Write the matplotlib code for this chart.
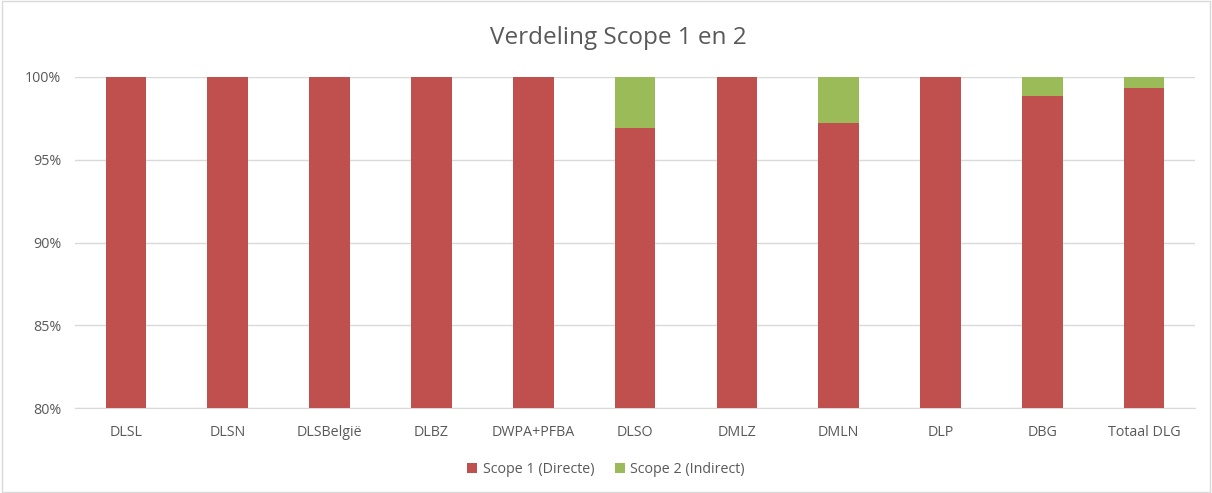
import matplotlib
matplotlib.use("Agg")
import matplotlib.pyplot as plt
from matplotlib.patches import Rectangle
from matplotlib.ticker import FuncFormatter

categories = ["DLSL", "DLSN", "DLSBelgië", "DLBZ", "DWPA+PFBA", "DLSO", "DMLZ", "DMLN", "DLP", "DBG", "Totaal DLG"]
scope1 = [100.0, 100.0, 100.0, 100.0, 100.0, 96.94, 100.0, 97.2, 100.0, 98.85, 99.35]
scope2 = [0.0, 0.0, 0.0, 0.0, 0.0, 3.06, 0.0, 2.8, 0.0, 1.15, 0.65]
yticks = [80, 85, 90, 95, 100]

red = "#C0504D"
green = "#9BBB59"
txt = "#595959"
plt.rcParams['font.family'] = ['Open Sans', 'DejaVu Sans']

fig = plt.figure(figsize=(12.12, 4.93), dpi=100)
ax = fig.add_axes([0.062, 0.172, 0.924, 0.672])
x = list(range(len(categories)))
ax.bar(x, scope1, width=0.4, color=red, label="Scope 1 (Directe)", zorder=3)
ax.bar(x, scope2, bottom=scope1, width=0.4, color=green, label="Scope 2 (Indirect)", zorder=3)
ax.set_ylim(80, 100)
ax.set_xlim(-0.5, len(categories) - 0.5)
ax.set_yticks(yticks)
ax.yaxis.set_major_formatter(FuncFormatter(lambda v, p: f"{v:.0f}%"))
ax.set_xticks(x)
ax.set_xticklabels(categories)
ax.grid(axis='y', color="#D9D9D9", linewidth=1, zorder=0)
for s in ["top", "right", "left"]:
    ax.spines[s].set_visible(False)
ax.spines["bottom"].set_color("#D9D9D9")
ax.tick_params(axis='both', length=0, colors=txt, labelsize=10.3)
ax.tick_params(axis='x', pad=12)
ax.tick_params(axis='y', pad=10)
fig.suptitle("Verdeling Scope 1 en 2", x=0.51, y=0.948, fontsize=17.5, color=txt)
leg = fig.legend(loc='center', bbox_to_anchor=(0.5, 0.048), ncol=2, frameon=False,
                 fontsize=10.3, labelcolor=txt, handlelength=0.7, handleheight=0.7,
                 handletextpad=0.4, columnspacing=1.4)
fig.patches.append(Rectangle((0.002, 0.002), 0.996, 0.996, transform=fig.transFigure,
                             fill=False, edgecolor="#D9D9D9", linewidth=1))
fig.savefig("out.png", dpi=100)
